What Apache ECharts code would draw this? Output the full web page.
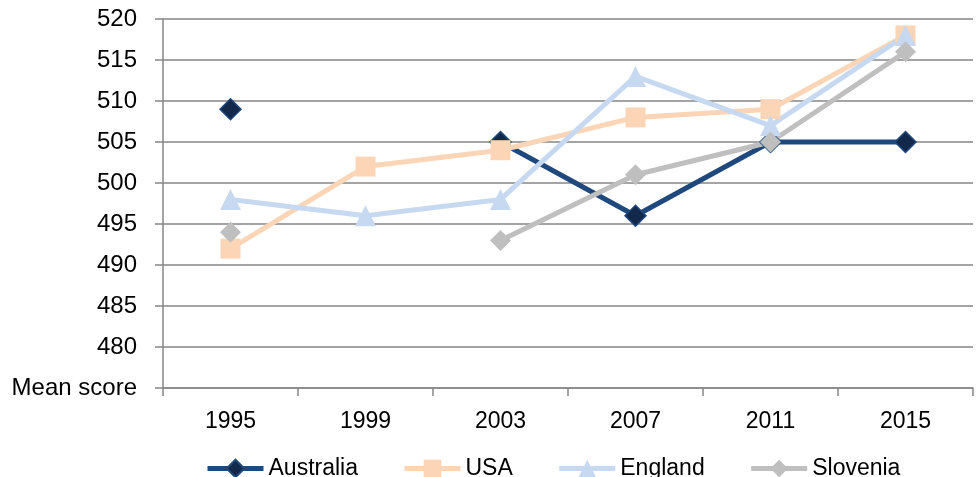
<!DOCTYPE html>
<html>
<head>
<meta charset="utf-8">
<script src="https://cdn.jsdelivr.net/npm/echarts@6/dist/echarts.min.js"></script>
<style>
html,body{margin:0;padding:0;background:#fff;}
#chart{width:976px;height:477px;}
</style>
</head>
<body>
<div id="chart"></div>
<script>
var years = ['1995', '1999', '2003', '2007', '2011', '2015'];
var australia = [509, null, 505, 496, 505, 505];
var usa = [492, 502, 504, 508, 509, 518];
var england = [498, 496, 498, 513, 507, 518];
var slovenia = [494, null, 493, 501, 505, 516];
var yMin = 475, yMax = 520, yStep = 5;
var yBottomLabel = 'Mean score';

var FONT = '"Liberation Sans", Arial, sans-serif';
var chart = echarts.init(document.getElementById('chart'), null, {renderer: 'canvas'});

function mk(name, data, color, symbol, size, markerFill, border) {
  return {
    name: name, type: 'line', data: data,
    connectNulls: false,
    symbol: symbol, symbolSize: size,
    showAllSymbol: true,
    lineStyle: {color: color, width: 5},
    itemStyle: {color: markerFill, borderColor: border || markerFill, borderWidth: border ? 1.5 : 0},
    emphasis: {disabled: true},
    animation: false
  };
}

chart.setOption({
  animation: false,
  backgroundColor: '#ffffff',
  grid: {left: 163, right: 3, top: 19, bottom: 89, containLabel: false},
  legend: {
    left: 200, top: 452,
    itemWidth: 56, itemHeight: 22, itemGap: 44,
    lineStyle: {width: 5},
    textStyle: {fontFamily: FONT, fontSize: 23, color: '#000'},
    data: ['Australia', 'USA', 'England', 'Slovenia']
  },
  xAxis: {
    type: 'category', data: years, boundaryGap: true,
    axisLine: {lineStyle: {color: '#868686', width: 1.5}},
    axisTick: {show: true, length: 8, inside: false, lineStyle: {color: '#868686', width: 1.5}},
    axisLabel: {fontFamily: FONT, fontSize: 23, color: '#000', margin: 22},
    splitLine: {show: false}
  },
  yAxis: {
    type: 'value', min: yMin, max: yMax, interval: yStep,
    axisLine: {show: true, lineStyle: {color: '#868686', width: 1.5}},
    axisTick: {show: true, length: 8, lineStyle: {color: '#868686', width: 1.5}},
    axisLabel: {
      fontFamily: FONT, fontSize: 24, color: '#000', margin: 26,
      formatter: function (v) { return v === yMin ? yBottomLabel : String(v); }
    },
    splitLine: {show: true, lineStyle: {color: '#868686', width: 1.5}}
  },
  series: [
    mk('Australia', australia, '#1F497D', 'diamond', 21, '#13294b', '#1F497D'),
    mk('USA', usa, '#FBD5B5', 'rect', 20, '#FBD5B5'),
    mk('England', england, '#C6D9F1', 'triangle', 21, '#C6D9F1'),
    mk('Slovenia', slovenia, '#BFBFBF', 'diamond', 21, '#BFBFBF')
  ]
});
</script>
</body>
</html>
